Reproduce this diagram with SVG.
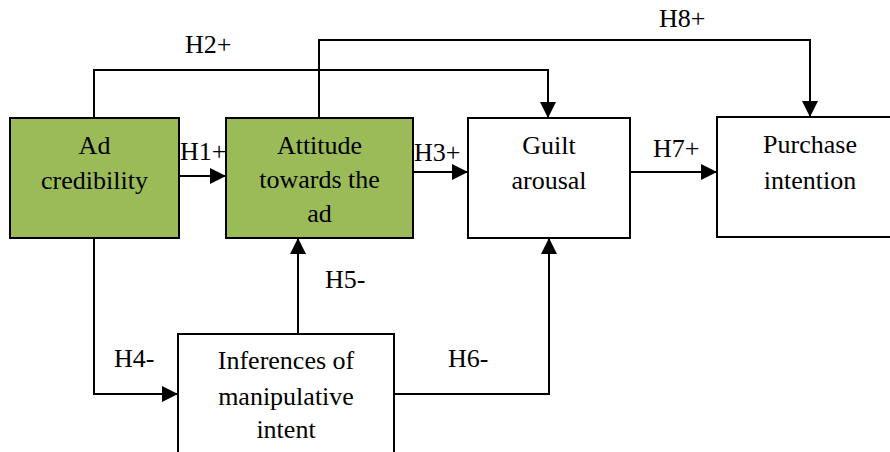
<svg xmlns="http://www.w3.org/2000/svg" width="890" height="452" viewBox="0 0 890 452" font-family="Liberation Serif" font-size="26">
  <style>
    .box { stroke: #000; stroke-width: 2; }
    .green { fill: #9BBB59; }
    .white { fill: #fff; }
    .c { text-anchor: middle; }
    .edge { fill: none; stroke: #000; stroke-width: 2; }
  </style>
  <defs>
    <marker id="arrow" markerUnits="userSpaceOnUse" markerWidth="16" markerHeight="16" viewBox="0 0 16 16" refX="16" refY="8" orient="auto">
      <path d="M0,0 L16,8 L0,16 Z" fill="#000"/>
    </marker>
  </defs>
  <rect width="890" height="452" fill="#fff"/>

  <!-- connectors and hypothesis labels -->
  <g id="connectors" fill="#000">
    <path class="edge" d="M179,176 H226" marker-end="url(#arrow)"/>
    <path class="edge" d="M94,118 V70 H548 V118" marker-end="url(#arrow)"/>
    <path class="edge" d="M413,172 H468" marker-end="url(#arrow)"/>
    <path class="edge" d="M94,238 V394 H178" marker-end="url(#arrow)"/>
    <path class="edge" d="M298,334 V238" marker-end="url(#arrow)"/>
    <path class="edge" d="M394,394 H549 V238" marker-end="url(#arrow)"/>
    <path class="edge" d="M630,172 H717" marker-end="url(#arrow)"/>
    <path class="edge" d="M319,118 V40 H810 V117" marker-end="url(#arrow)"/>
    <text font-family="Liberation Serif" x="180" y="160">H1+</text>
    <text font-family="Liberation Serif" x="185" y="53">H2+</text>
    <text font-family="Liberation Serif" x="414" y="161">H3+</text>
    <text font-family="Liberation Serif" x="114" y="367">H4-</text>
    <text font-family="Liberation Serif" x="325" y="288">H5-</text>
    <text font-family="Liberation Serif" x="448" y="367">H6-</text>
    <text font-family="Liberation Serif" x="653" y="157">H7+</text>
    <text font-family="Liberation Serif" x="659" y="27">H8+</text>
  </g>

  <g id="ad-credibility">
    <rect class="box green" x="10" y="118" width="169" height="120"/>
    <text class="c" font-family="Liberation Serif" x="94.5" y="154">Ad</text>
    <text class="c" font-family="Liberation Serif" x="94.5" y="189">credibility</text>
  </g>

  <g id="attitude">
    <rect class="box green" x="226" y="118" width="187" height="120"/>
    <text class="c" font-family="Liberation Serif" x="319.5" y="154">Attitude</text>
    <text class="c" font-family="Liberation Serif" x="319.5" y="188">towards the</text>
    <text class="c" font-family="Liberation Serif" x="319.5" y="222">ad</text>
  </g>

  <g id="guilt-arousal">
    <rect class="box white" x="468" y="118" width="162" height="120"/>
    <text class="c" font-family="Liberation Serif" x="549" y="154">Guilt</text>
    <text class="c" font-family="Liberation Serif" x="549" y="189">arousal</text>
  </g>

  <g id="purchase-intention">
    <rect class="box white" x="717" y="117" width="180" height="120"/>
    <text class="c" font-family="Liberation Serif" x="810" y="153">Purchase</text>
    <text class="c" font-family="Liberation Serif" x="810" y="189">intention</text>
  </g>

  <g id="manipulative-intent">
    <rect class="box white" x="178" y="334" width="216" height="130"/>
    <text class="c" font-family="Liberation Serif" x="286" y="369">Inferences of</text>
    <text class="c" font-family="Liberation Serif" x="286" y="405">manipulative</text>
    <text class="c" font-family="Liberation Serif" x="286" y="438">intent</text>
  </g>
</svg>
